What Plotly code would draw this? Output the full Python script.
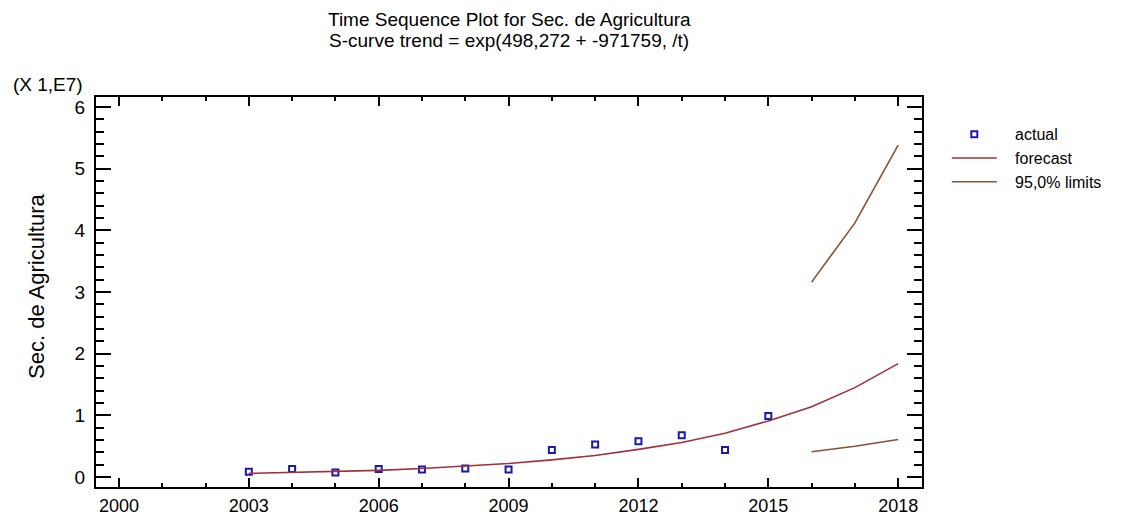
import plotly.graph_objects as go

# Observed series (units of 1E7)
years_actual = [2003, 2004, 2005, 2006, 2007, 2008, 2009, 2010, 2011, 2012, 2013, 2014, 2015]
actual = [0.086, 0.13, 0.076, 0.13, 0.125, 0.14, 0.125, 0.44, 0.53, 0.58, 0.68, 0.44, 0.99]

# S-curve trend fitted and extended to 2018
years_forecast = [2003, 2004, 2005, 2006, 2007, 2008, 2009, 2010, 2011, 2012,
                  2013, 2014, 2015, 2016, 2017, 2018]
forecast = [0.06, 0.075, 0.09, 0.11, 0.14, 0.175, 0.22, 0.28, 0.35, 0.45,
            0.56, 0.71, 0.91, 1.14, 1.45, 1.84]

# 95,0% prediction limits for the forecast period
years_limits = [2016, 2017, 2018]
upper_limit = [3.16, 4.12, 5.38]
lower_limit = [0.41, 0.50, 0.61]

x_ticks = [2000, 2003, 2006, 2009, 2012, 2015, 2018]
y_ticks = [0, 1, 2, 3, 4, 5, 6]

title_lines = ["Time Sequence Plot for Sec. de Agricultura",
               "S-curve trend = exp(498,272 + -971759, /t)"]

FONT = "Liberation Sans, Arial, sans-serif"
forecast_color = "#A0303A"
limit_color = "#8B5030"
actual_color = "#1A1AA8"

fig = go.Figure()
fig.add_trace(go.Scatter(
    x=years_actual, y=actual, mode="markers", name="\u00a0\u00a0\u00a0actual",
    marker=dict(symbol="square-open", size=6, color=actual_color,
                line=dict(width=2, color=actual_color)),
))
fig.add_trace(go.Scatter(
    x=years_forecast, y=forecast, mode="lines", name="\u00a0\u00a0\u00a0forecast",
    line=dict(color=forecast_color, width=1.6),
))
fig.add_trace(go.Scatter(
    x=years_limits, y=upper_limit, mode="lines", name="\u00a0\u00a0\u00a095,0% limits",
    line=dict(color=limit_color, width=1.6), legendgroup="lim",
))
fig.add_trace(go.Scatter(
    x=years_limits, y=lower_limit, mode="lines", name="95,0% limits",
    line=dict(color=limit_color, width=1.6), legendgroup="lim", showlegend=False,
))

fig.update_layout(
    width=1135, height=518,
    margin=dict(l=96, r=213, t=97, b=31),
    paper_bgcolor="white", plot_bgcolor="white",
    font=dict(family=FONT, color="black", size=18),
    legend=dict(
        x=1.03, xanchor="left", y=0.948, yanchor="top",
        font=dict(family=FONT, size=16, color="black"),
        itemwidth=45, tracegroupgap=0, bgcolor="rgba(0,0,0,0)",
    ),
    showlegend=True,
)

fig.update_xaxes(
    range=[1999.47, 2018.55], tickvals=x_ticks, ticktext=[str(v) for v in x_ticks],
    showgrid=False, zeroline=False, automargin=False,
    showline=True, linecolor="black", linewidth=2, mirror="allticks",
    ticks="inside", ticklen=9, tickwidth=2, tickcolor="black",
    minor=dict(ticks="inside", ticklen=4, tickwidth=1.5, tickcolor="black", dtick=1, tick0=2000),
    tickfont=dict(family=FONT, size=18), ticklabelstandoff=1,
)
fig.update_yaxes(
    range=[-0.16, 6.16], tickvals=y_ticks, ticktext=[str(v) for v in y_ticks],
    showgrid=False, zeroline=False, automargin=False,
    showline=True, linecolor="black", linewidth=2, mirror="allticks",
    ticks="inside", ticklen=15, tickwidth=2, tickcolor="black",
    minor=dict(ticks="inside", ticklen=8, tickwidth=1.5, tickcolor="black", dtick=0.2, tick0=0),
    tickfont=dict(family=FONT, size=19), ticklabelstandoff=5,
)

# Two-line heading centred over the plot area
for text, ypos in zip(title_lines, [1.199, 1.145]):
    fig.add_annotation(
        text=text, xref="paper", yref="paper", x=0.5, y=ypos,
        xanchor="center", yanchor="middle", showarrow=False,
        font=dict(family=FONT, size=19, color="black"),
    )

fig.add_annotation(
    text="Sec. de Agricultura", textangle=-90,
    xref="paper", yref="paper", x=-0.0714, y=0.513,
    xanchor="center", yanchor="middle", showarrow=False,
    font=dict(family=FONT, size=22, color="black"),
)
fig.add_annotation(
    text="(X 1,E7)",
    xref="paper", yref="paper", x=-0.103, y=1.0,
    xanchor="left", yanchor="bottom", showarrow=False,
    font=dict(family=FONT, size=19, color="black"),
)

fig.write_html("out.html")
